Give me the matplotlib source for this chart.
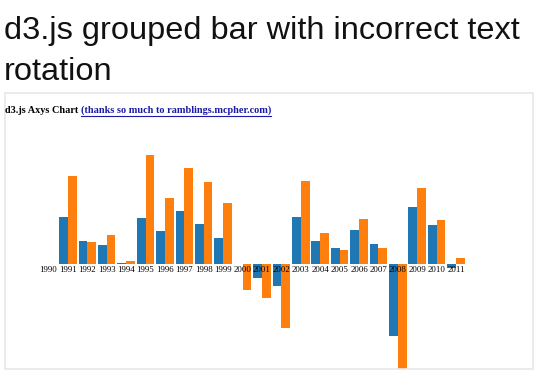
import matplotlib
matplotlib.use('Agg')
import matplotlib.pyplot as plt
from matplotlib.patches import Rectangle
import numpy as np

# chart data
years = [str(y) for y in range(1990, 2012)]
series_a = [0, 4.7, 2.3, 1.9, 0.13, 4.6, 3.3, 5.3, 4.0, 2.6, 0.0, -1.4,
            -2.2, 4.7, 2.3, 1.6, 3.4, 2.0, -7.2, 5.7, 3.9, -0.4]
series_b = [0, 8.8, 2.2, 2.9, 0.37, 10.9, 6.6, 9.6, 8.2, 6.1, -2.6, -3.4,
            -6.4, 8.3, 3.1, 1.4, 4.5, 1.6, -10.8, 7.6, 4.4, 0.6]

W, H = 540, 374
fig = plt.figure(figsize=(W / 100, H / 100), dpi=100)
fig.patch.set_facecolor('white')

def fx(x):
    return x / W

def fy(y):
    return 1 - y / H

# page title (two lines, like the browser wrapped it)
fig.text(fx(4), fy(39), 'd3.js grouped bar with incorrect text', family='Liberation Sans',
         fontsize=23.4, va='baseline', ha='left', color='#111111')
fig.text(fx(4), fy(80), 'rotation', family='Liberation Sans',
         fontsize=23.4, va='baseline', ha='left', color='#111111')

# frame around the chart
fig.add_artist(Rectangle((fx(4.5), fy(369)), fx(533 - 4.5), (369 - 93) / H,
                         transform=fig.transFigure, fill=False,
                         edgecolor='#e8e8e8', lw=1.2))

# subtitle + link
t1 = fig.text(fx(5), fy(110.5), 'd3.js Axys Chart ', family='Liberation Serif',
              fontsize=7.4, weight='bold', va='center', ha='left', color='black')
fig.canvas.draw()
r = fig.canvas.get_renderer()
bb = t1.get_window_extent(r)
t2 = fig.text(bb.x1 / W, fy(110.5), '(thanks so much to ramblings.mcpher.com)',
              family='Liberation Serif', fontsize=7.4, weight='bold',
              va='center', ha='left', color='#1a1aa6')
fig.canvas.draw()
bb2 = t2.get_window_extent(r)
fig.add_artist(plt.Line2D([bb2.x0 / W, bb2.x1 / W], [fy(115.5), fy(115.5)],
                          transform=fig.transFigure, color='#1a1aa6', lw=0.8))

# bars
left, right = 38.75, 465.75
top, bottom = 120.0, 369.0
ax = fig.add_axes([fx(left), fy(bottom), (right - left) / W, (bottom - top) / H])
ax.set_xlim(-0.5, len(years) - 0.5)
ax.set_ylim(-(bottom - 264.3) / 10, (264.3 - top) / 10)
ax.axis('off')

x = np.arange(len(years))
w = 0.45
ax.bar(x - w / 2, series_a, width=w, color='#1f77b4', zorder=2)
ax.bar(x + w / 2, series_b, width=w, color='#ff7f0e', zorder=2)

for i, lab in enumerate(years):
    ax.annotate(lab, (i, 0), xytext=(0, -3.8), textcoords='offset points',
                ha='center', va='center', family='Liberation Serif',
                fontsize=6.3, color='black', zorder=5)

fig.savefig('out.png', dpi=100)
